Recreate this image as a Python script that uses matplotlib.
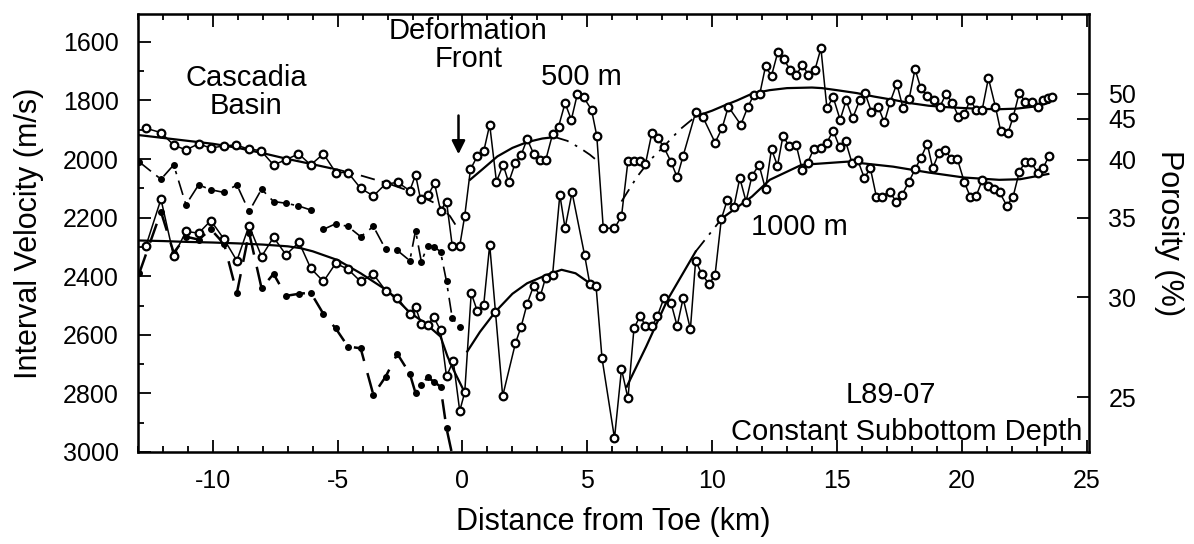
import numpy as np
import matplotlib
matplotlib.use("Agg")
import matplotlib.pyplot as plt
from matplotlib.ticker import MultipleLocator

plt.rcParams['font.family'] = ['Liberation Sans', 'DejaVu Sans']
plt.rcParams['axes.unicode_minus'] = False

# 500 m subbottom depth, interval velocity (m/s)
x500 = [-12.68, -12.08, -11.57, -11.08, -10.57, -10.08, -9.57, -9.07, -8.57, -8.08,
        -7.57, -7.08, -6.57, -6.08, -5.57, -5.08, -4.59, -4.08, -3.57, -3.08,
        -2.59, -2.11, -1.88, -1.68, -1.37, -1.12, -0.88, -0.64, -0.41, -0.11,
        0.09, 0.32, 0.59, 0.85, 1.09, 1.36, 1.63, 1.85, 2.12, 2.35,
        2.59, 2.85, 3.09, 3.33, 3.61, 3.85, 4.11, 4.36, 4.60, 4.86,
        5.17, 5.38, 5.64, 6.09, 6.37, 6.63, 6.87, 7.11, 7.33, 7.59,
        7.83, 8.07, 8.35, 8.60, 8.84, 9.34, 9.62, 10.12, 10.40, 10.65,
        11.15, 11.43, 11.67, 11.91, 12.14, 12.38, 12.63, 12.87, 13.13, 13.37,
        13.62, 13.86, 14.12, 14.36, 14.60, 14.85, 15.13, 15.37, 15.63, 15.91,
        16.12, 16.38, 16.66, 16.90, 17.14, 17.40, 17.65, 17.89, 18.13, 18.36,
        18.62, 18.88, 19.12, 19.37, 19.63, 19.87, 20.11, 20.34, 20.58, 20.82,
        21.07, 21.35, 21.56, 21.85, 22.06, 22.31, 22.55, 22.81, 23.05, 23.26,
        23.45, 23.61]
v500 = [1895, 1910, 1952, 1969, 1948, 1963, 1955, 1952, 1966, 1971,
        2020, 2003, 1982, 2020, 1982, 2046, 2046, 2100, 2126, 2085,
        2080, 2108, 2054, 2137, 2122, 2083, 2176, 2145, 2296, 2296,
        2194, 2035, 1991, 1974, 1883, 2077, 2020, 2080, 2012, 1986,
        1932, 1982, 2003, 2005, 1915, 1889, 1809, 1866, 1779, 1790,
        1832, 1921, 2236, 2236, 2196, 2006, 2006, 2006, 2017, 1910,
        1929, 1960, 2009, 2062, 1989, 1841, 1855, 1944, 1895, 1821,
        1883, 1823, 1781, 1778, 1684, 1716, 1636, 1659, 1696, 1713,
        1679, 1713, 1696, 1622, 1826, 1789, 1866, 1800, 1861, 1800,
        1773, 1838, 1823, 1875, 1804, 1743, 1826, 1796, 1693, 1758,
        1784, 1798, 1823, 1778, 1809, 1855, 1846, 1798, 1832, 1832,
        1724, 1821, 1904, 1912, 1857, 1773, 1807, 1807, 1821, 1798,
        1792, 1787]

# 1000 m subbottom depth
x1000 = [-12.68, -12.08, -11.57, -11.08, -10.57, -10.08, -9.55, -9.04, -8.55, -8.05,
         -7.57, -7.07, -6.55, -6.08, -5.57, -5.08, -4.59, -4.08, -3.57, -3.08,
         -2.61, -2.11, -1.88, -1.65, -1.39, -1.15, -0.88, -0.64, -0.37, -0.11,
         0.09, 0.35, 0.59, 0.85, 1.09, 1.32, 1.61, 2.12, 2.35, 2.59,
         2.85, 3.12, 3.33, 3.61, 3.90, 4.11, 4.39, 4.89, 5.10, 5.35,
         5.59, 6.09, 6.37, 6.63, 6.87, 7.12, 7.33, 7.61, 7.81, 8.07,
         8.35, 8.60, 8.84, 9.13, 9.34, 9.59, 9.88, 10.12, 10.37, 10.61,
         10.87, 11.11, 11.36, 11.60, 11.88, 12.14, 12.38, 12.62, 12.84, 13.08,
         13.37, 13.61, 13.83, 14.07, 14.36, 14.60, 14.85, 15.11, 15.35, 15.60,
         15.84, 16.10, 16.34, 16.58, 16.80, 17.11, 17.37, 17.61, 17.89, 18.13,
         18.36, 18.62, 18.84, 19.09, 19.35, 19.59, 19.83, 20.11, 20.34, 20.58,
         20.82, 21.04, 21.28, 21.52, 21.81, 22.06, 22.31, 22.55, 22.77, 23.05,
         23.26, 23.50]
v1000 = [2296, 2137, 2331, 2247, 2253, 2210, 2274, 2347, 2227, 2333,
         2267, 2327, 2284, 2373, 2418, 2356, 2376, 2418, 2393, 2449,
         2473, 2529, 2506, 2563, 2566, 2540, 2585, 2742, 2689, 2860,
         2796, 2458, 2518, 2498, 2293, 2521, 2809, 2629, 2572, 2494,
         2433, 2467, 2405, 2395, 2122, 2236, 2114, 2327, 2426, 2433,
         2680, 2953, 2717, 2817, 2578, 2535, 2570, 2570, 2535, 2475,
         2490, 2570, 2475, 2581, 2347, 2393, 2427, 2395, 2205, 2139,
         2164, 2065, 2145, 2057, 2020, 2103, 1966, 2023, 1921, 1955,
         1952, 2037, 2012, 1966, 1963, 1944, 1903, 1960, 1940, 2012,
         2005, 2065, 2031, 2128, 2128, 2111, 2145, 2122, 2077, 2035,
         1997, 1948, 2031, 1978, 1969, 2001, 2001, 2080, 2128, 2126,
         2073, 2092, 2103, 2114, 2160, 2128, 2043, 2009, 2009, 2048,
         2031, 1989]

# smooth trend curves
fit500_left_x = [-13, -12, -11, -10, -9, -8, -7, -6, -5.3, -5, -4, -3, -2, -1, -0.5, -0.15]
fit500_left_v = [1918, 1928, 1938, 1948, 1962, 1980, 2000, 2018, 2031, 2036, 2058, 2083, 2113, 2155, 2195, 2242]
fit500_mid_x = [0.3, 0.8, 1.4, 2.0, 2.6, 3.2, 3.7, 4.2, 4.7, 5.1, 5.5]
fit500_mid_v = [2071, 2035, 1991, 1962, 1942, 1930, 1925, 1938, 1962, 1985, 2013]
fit500_right_x = [6.37, 7.0, 7.5, 8.07, 8.7, 9.34, 10.0, 10.47, 11.0, 11.6, 12.3, 13.0, 14.0,
                  14.4, 15.0, 15.8, 16.5, 17.25, 18.0, 18.67, 19.4, 20.08, 20.8, 21.5, 22.2, 22.9, 23.5]
fit500_right_v = [2145, 2060, 2005, 1957, 1900, 1855, 1835, 1818, 1800, 1777, 1765, 1758, 1756,
                  1758, 1765, 1775, 1787, 1798, 1810, 1818, 1823, 1826, 1829, 1830, 1828, 1821, 1808]

fit1000_left_x = [-13, -12, -11, -10, -9, -8, -7, -6.5, -6, -5, -4.08, -3, -2.08, -1.5, -0.88, -0.6, -0.3, 0.05]
fit1000_left_v = [2278, 2280, 2283, 2285, 2288, 2292, 2298, 2304, 2315, 2345, 2390, 2450, 2526, 2560, 2606, 2674, 2730, 2790]
fit1000_mid_x = [0.19, 0.7, 1.32, 2.0, 2.59, 3.39, 3.97, 4.53, 5.10, 5.35]
fit1000_mid_v = [2657, 2590, 2521, 2460, 2424, 2395, 2378, 2390, 2424, 2435]
fit1000_right_x = [6.58, 7.36, 8.21, 9.34, 10.40, 11.60, 12.31, 13.58, 15.42, 17.25, 18.67, 20.08, 21.5, 22.34, 23.47]
fit1000_right_v = [2777, 2640, 2481, 2316, 2202, 2128, 2071, 2020, 2009, 2026, 2046, 2063, 2071, 2069, 2051]

# small filled-dot profiles west of the deformation front
xdot_up = [-12.95, -12.08, -11.57, -11.08, -10.57, -10.08, -9.55, -9.04, -8.55, -8.05,
           -7.57, -7.07, -6.57, -6.08, np.nan, -5.57, -5.08, -4.59, -4.08, -3.57,
           -3.08, -2.61, -2.11, -1.88, -1.65, -1.39, -1.15, -0.88, -0.64, -0.41, -0.11]
vdot_up = [2010, 2069, 2020, 2156, 2088, 2105, 2114, 2088, 2179, 2103,
           2145, 2151, 2160, 2174, np.nan, 2240, 2221, 2230, 2265, 2230,
           2308, 2312, 2347, 2244, 2350, 2296, 2299, 2316, 2418, 2543, 2572]
xdot_lo = [-12.95, -12.08, -11.57, -11.08, -10.57, -10.08, -9.55, -9.04, -8.55, -8.05,
           -7.57, -7.07, -6.55, -6.08, -5.57, -5.08, -4.59, -4.08, -3.57, -3.08,
           -2.61, -2.11, -1.88, -1.65, -1.39, -1.15, -0.88, -0.64, -0.41]
vdot_lo = [2390, 2180, 2320, 2265, 2275, 2240, 2290, 2458, 2251, 2441,
           2392, 2467, 2460, 2456, 2529, 2578, 2640, 2646, 2805, 2743,
           2665, 2733, 2799, 2770, 2745, 2760, 2777, 2919, 3010]

por_pos = [1777, 1862, 2003, 2201, 2471, 2813]
por_lab = ['50', '45', '40', '35', '30', '25']

DASHDOT = (0, (8, 4, 1.5, 4))

fig = plt.figure(figsize=(11.94, 5.44), dpi=100)
ax = fig.add_axes([138/1194, 1-452/544, (1089-138)/1194, (452-14)/544])


def fit(x, v, pieces):
    # pieces: list of (x_from, x_to, dashed?)
    x = np.asarray(x); v = np.asarray(v)
    for a, b, dashed in pieces:
        m = (x >= a) & (x <= b)
        if dashed:
            ax.plot(x[m], v[m], color='k', lw=1.3, ls=DASHDOT, zorder=2)
        else:
            ax.plot(x[m], v[m], color='k', lw=1.6, zorder=2)


fit(fit500_left_x, fit500_left_v, [(-13, -5.3, False), (-5.3, 0, True)])
fit(fit500_mid_x, fit500_mid_v, [(0, 3.7, False), (3.7, 6, True)])
fit(fit500_right_x, fit500_right_v, [(6, 9.34, True), (9.34, 24, False)])
fit(fit1000_left_x, fit1000_left_v, [(-13, 0.1, False)])
fit(fit1000_mid_x, fit1000_mid_v, [(0, 6, False)])
fit(fit1000_right_x, fit1000_right_v, [(6, 9.34, False), (9.34, 10.4, True), (10.4, 24, False)])

# filled-dot profiles
ax.plot(xdot_up, vdot_up, color='k', lw=1.2, ls=(0, (9, 4, 2, 4)), marker='o', ms=4,
        mfc='k', mec='k', zorder=3)
ax.plot(xdot_lo, vdot_lo, color='k', lw=1.8, ls=(0, (8, 5)), marker='o', ms=4,
        mfc='k', mec='k', zorder=3)

# open-circle velocity profiles
for xs, vs in [(x500, v500), (x1000, v1000)]:
    ax.plot(xs, vs, color='k', lw=1.1, marker='o', ms=5.5, mfc='white', mec='k',
            mew=1.6, zorder=4)

ax.set_xlim(-13, 25.1)
ax.set_ylim(3000, 1505)
ax.xaxis.set_major_locator(MultipleLocator(5))
ax.xaxis.set_minor_locator(MultipleLocator(1))
ax.yaxis.set_minor_locator(MultipleLocator(100))
ax.set_yticks(np.arange(1600, 3001, 200))
ax.tick_params(which='both', direction='in', top=True, right=False, width=1.3, labelsize=18)
ax.tick_params(which='major', length=9)
ax.tick_params(which='minor', length=4)
ax.tick_params(axis='y', pad=14)
ax.tick_params(axis='x', pad=12)
for s in ax.spines.values():
    s.set_linewidth(1.8)

ax2 = ax.twinx()
ax2.set_ylim(ax.get_ylim())
ax2.set_yticks(por_pos)
ax2.set_yticklabels(por_lab)
ax2.tick_params(direction='in', length=9, width=1.3, labelsize=18, pad=14)
ax2.set_ylabel('Porosity (%)', fontsize=22, rotation=270, labelpad=34)

ax.set_xlabel('Distance from Toe (km)', fontsize=22, labelpad=10)
ax.set_ylabel('Interval Velocity (m/s)', fontsize=22, labelpad=13)

ax.text(-8.68, 1771, 'Cascadia\nBasin', fontsize=21, ha='center', va='center', linespacing=1.0)
ax.text(0.24, 1612, 'Deformation\nFront', fontsize=21, ha='center', va='center', linespacing=1.0)
ax.annotate('', xy=(-0.16, 1993), xytext=(-0.16, 1842),
            arrowprops=dict(arrowstyle='-|>', color='k', lw=1.8, mutation_scale=20))
ax.text(4.76, 1720, '500 m', fontsize=21, ha='center', va='center')
ax.text(13.48, 2232, '1000 m', fontsize=21, ha='center', va='center')
ax.text(17.16, 2805, 'L89-07', fontsize=21, ha='center', va='center')
ax.text(24.85, 2931, 'Constant Subbottom Depth', fontsize=21, ha='right', va='center')

fig.savefig('out.png', dpi=100)
